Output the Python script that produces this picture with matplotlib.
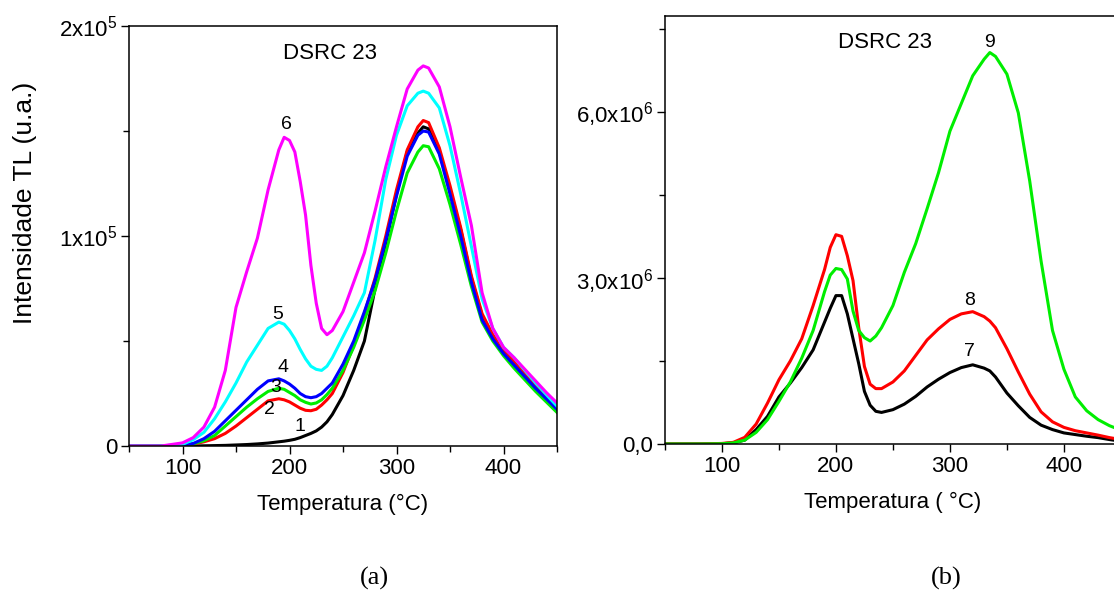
import numpy as np
import matplotlib.pyplot as plt
from matplotlib.ticker import MultipleLocator, FixedLocator

plt.rcParams['font.family'] = ['Liberation Sans', 'DejaVu Sans']
plt.rcParams['mathtext.fontset'] = 'custom'
plt.rcParams['mathtext.rm'] = 'Liberation Sans'
plt.rcParams['mathtext.it'] = 'Liberation Sans:italic'
plt.rcParams['mathtext.bf'] = 'Liberation Sans:bold'

# ---- panel (a): curves 1-6 ----
temp_a = [50, 80, 100, 110, 120, 130, 140, 150, 160, 170, 180, 190, 195, 200, 205,
          210, 215, 220, 225, 230, 235, 240, 250, 260, 270, 280, 290, 300, 310, 320,
          325, 330, 340, 350, 360, 370, 380, 390, 400, 410, 420, 430, 440, 450]

curve1 = [0, 0, 0, 0, 100, 200, 300, 500, 700, 1000, 1400, 2000, 2300, 2700, 3200,
          4000, 5000, 6000, 7200, 9000, 11500, 15000, 24000, 36000, 50000, 75000, 97000, 120000, 140000, 149000,
          152000, 151000, 140000, 122000, 103000, 80000, 62000, 52000, 45000, 39000, 33000, 27500, 22500, 17500]
curve2 = [0, 0, 300, 900, 2000, 3500, 6000, 9500, 13500, 17500, 21500, 22500, 22000, 21000, 19500,
          18000, 17000, 16800, 17500, 19500, 22000, 25000, 35000, 48000, 63000, 80000, 100000, 122000, 141000, 152000,
          155000, 154000, 142000, 124000, 104000, 81000, 63000, 53000, 46000, 40000, 34000, 28500, 23000, 18000]
curve3 = [0, 0, 300, 1000, 2500, 5000, 9500, 14000, 18500, 22500, 26000, 27500, 27000, 25500, 24000,
          22000, 20800, 20000, 20500, 22000, 24500, 27500, 36000, 47000, 60000, 74000, 92000, 112000, 130000, 140000,
          143000, 142500, 132000, 115000, 96000, 76000, 59000, 50000, 43000, 37000, 31500, 26000, 21000, 16000]
curve4 = [0, 0, 400, 1200, 3500, 7000, 12000, 17000, 22000, 27000, 31000, 32000, 31000, 29500, 27500,
          25000, 23500, 23000, 23500, 25000, 27500, 30000, 39000, 50000, 64000, 79000, 98000, 119000, 138000, 148000,
          150000, 149500, 139000, 120000, 100000, 78000, 60000, 51000, 44000, 38500, 33000, 27500, 22500, 17500]
curve5 = [0, 0, 800, 3000, 6500, 13000, 21000, 30000, 40000, 48000, 56000, 59000, 58000, 55000, 51000,
          46000, 41500, 38000, 36500, 36000, 38000, 42000, 52000, 62000, 73000, 98000, 127000, 148000, 162000, 168000,
          169000, 168000, 161000, 143000, 120000, 95000, 70000, 56000, 47000, 42000, 36000, 30000, 24500, 19000]
curve6 = [0, 0, 1500, 4000, 9000, 18500, 36000, 66000, 83000, 99000, 122000, 141000, 147000, 145500, 140000,
          126000, 110000, 86000, 68000, 56000, 53000, 55000, 64000, 78000, 92000, 112000, 133000, 152000, 170000, 179000,
          181000, 180000, 171000, 152000, 128000, 105000, 73000, 56000, 47000, 42000, 36500, 31000, 25500, 20500]

curves_a = [curve1, curve2, curve3, curve4, curve5, curve6]
colors_a = ['#000000', '#ff0000', '#00ee00', '#0000ff', '#00ffff', '#ff00ff']
labels_a = ['1', '2', '3', '4', '5', '6']
label_t_a = [210, 181, 187, 194, 189, 197]
label_i_a = [9200, 17600, 28100, 37600, 62400, 153300]

# ---- panel (b): curves 7-9 ----
temp_b = [50, 80, 100, 110, 120, 130, 140, 150, 160, 170, 180, 190, 195, 200, 205,
          210, 215, 220, 225, 230, 235, 240, 250, 260, 270, 280, 290, 300, 310, 320,
          330, 335, 340, 350, 360, 370, 380, 390, 400, 410, 420, 430, 440, 450]

curve7 = [0, 0, 5e3, 2e4, 7e4, 2.6e5, 5.0e5, 8.5e5, 1.1e6, 1.38e6, 1.70e6, 2.20e6, 2.45e6, 2.68e6, 2.68e6,
          2.35e6, 1.90e6, 1.45e6, 9.5e5, 7.0e5, 5.9e5, 5.7e5, 6.2e5, 7.2e5, 8.6e5, 1.03e6, 1.17e6, 1.29e6, 1.38e6, 1.43e6,
          1.37e6, 1.32e6, 1.21e6, 9.2e5, 6.9e5, 4.8e5, 3.4e5, 2.6e5, 2.0e5, 1.7e5, 1.4e5, 1.15e5, 8e4, 5e4]
curve8 = [0, 0, 1e4, 3e4, 1.2e5, 3.6e5, 7.4e5, 1.16e6, 1.50e6, 1.90e6, 2.50e6, 3.15e6, 3.55e6, 3.78e6, 3.75e6,
          3.40e6, 2.95e6, 2.10e6, 1.40e6, 1.08e6, 1.0e6, 1.0e6, 1.12e6, 1.32e6, 1.60e6, 1.88e6, 2.08e6, 2.25e6, 2.35e6, 2.39e6,
          2.30e6, 2.22e6, 2.10e6, 1.72e6, 1.30e6, 9.0e5, 5.8e5, 4.0e5, 3.0e5, 2.4e5, 2.0e5, 1.6e5, 1.15e5, 8e4]
curve9 = [0, 0, 5e3, 2e4, 7e4, 2.1e5, 4.4e5, 7.7e5, 1.12e6, 1.55e6, 2.05e6, 2.75e6, 3.05e6, 3.17e6, 3.15e6,
          2.98e6, 2.40e6, 2.05e6, 1.92e6, 1.86e6, 1.95e6, 2.10e6, 2.50e6, 3.10e6, 3.62e6, 4.25e6, 4.90e6, 5.65e6, 6.15e6, 6.65e6,
          6.95e6, 7.07e6, 7.0e6, 6.68e6, 5.98e6, 4.75e6, 3.30e6, 2.05e6, 1.35e6, 8.5e5, 6.0e5, 4.4e5, 3.3e5, 2.5e5]

curves_b = [curve7, curve8, curve9]
colors_b = ['#000000', '#ff0000', '#00ee00']
labels_b = ['7', '8', '9']
label_t_b = [317, 317, 335]
label_i_b = [1.67e6, 2.60e6, 7.26e6]

yticks_a = [0, 1e5, 2e5]
yticklabels_a = ['0', r'$\mathregular{1x10^{5}}$', r'$\mathregular{2x10^{5}}$']
yticks_b = [0, 3e6, 6e6]
yticklabels_b = ['0,0', r'$\mathregular{3{,}0x10^{6}}$', r'$\mathregular{6{,}0x10^{6}}$']

fig = plt.figure(figsize=(11.14, 5.95), dpi=100)
ax1 = fig.add_axes([0.1158, 0.2504, 0.3842, 0.7059])
ax2 = fig.add_axes([0.5969, 0.2538, 0.4093, 0.7193])

for curve, color in zip(curves_a, colors_a):
    ax1.plot(temp_a, curve, color=color, lw=2.2)
for lab, t, i in zip(labels_a, label_t_a, label_i_a):
    ax1.text(t, i, lab, ha='center', va='center', fontsize=14)
ax1.text(238, 1.87e5, 'DSRC 23', ha='center', va='center', fontsize=16)

for curve, color in zip(curves_b, colors_b):
    ax2.plot(temp_b, curve, color=color, lw=2.2)
for lab, t, i in zip(labels_b, label_t_b, label_i_b):
    ax2.text(t, i, lab, ha='center', va='center', fontsize=14)
ax2.text(243, 7.25e6, 'DSRC 23', ha='center', va='center', fontsize=16)

ax1.set_xlim(50, 450)
ax1.set_ylim(0, 2e5)
ax2.set_xlim(50, 450)
ax2.set_ylim(0, 7.73e6)

for ax in (ax1, ax2):
    ax.xaxis.set_major_locator(FixedLocator([100, 200, 300, 400]))
    ax.xaxis.set_minor_locator(MultipleLocator(50))
    ax.tick_params(which='major', direction='out', length=5.5, width=1.0, labelsize=16, pad=3)
    ax.tick_params(which='minor', direction='out', length=4, width=1.0)
    for sp in ax.spines.values():
        sp.set_linewidth(1.1)

ax1.set_yticks(yticks_a)
ax1.set_yticklabels(yticklabels_a)
ax1.yaxis.set_minor_locator(MultipleLocator(5e4))
ax2.set_yticks(yticks_b)
ax2.set_yticklabels(yticklabels_b)
ax2.yaxis.set_minor_locator(MultipleLocator(1.5e6))

ax1.set_xlabel('Temperatura (°C)', fontsize=16, labelpad=11)
ax2.set_xlabel('Temperatura ( °C)', fontsize=16, labelpad=11)
fig.text(25 / 1114, 1 - 203 / 595, 'Intensidade TL (u.a.)', rotation=90,
         ha='center', va='center', fontsize=19)

fig.text(374 / 1114, 1 - 578 / 595, '(a)', ha='center', va='center',
         fontsize=19, family='Liberation Serif')
fig.text(946 / 1114, 1 - 578 / 595, '(b)', ha='center', va='center',
         fontsize=19, family='Liberation Serif')

fig.savefig('out.png', dpi=100)
